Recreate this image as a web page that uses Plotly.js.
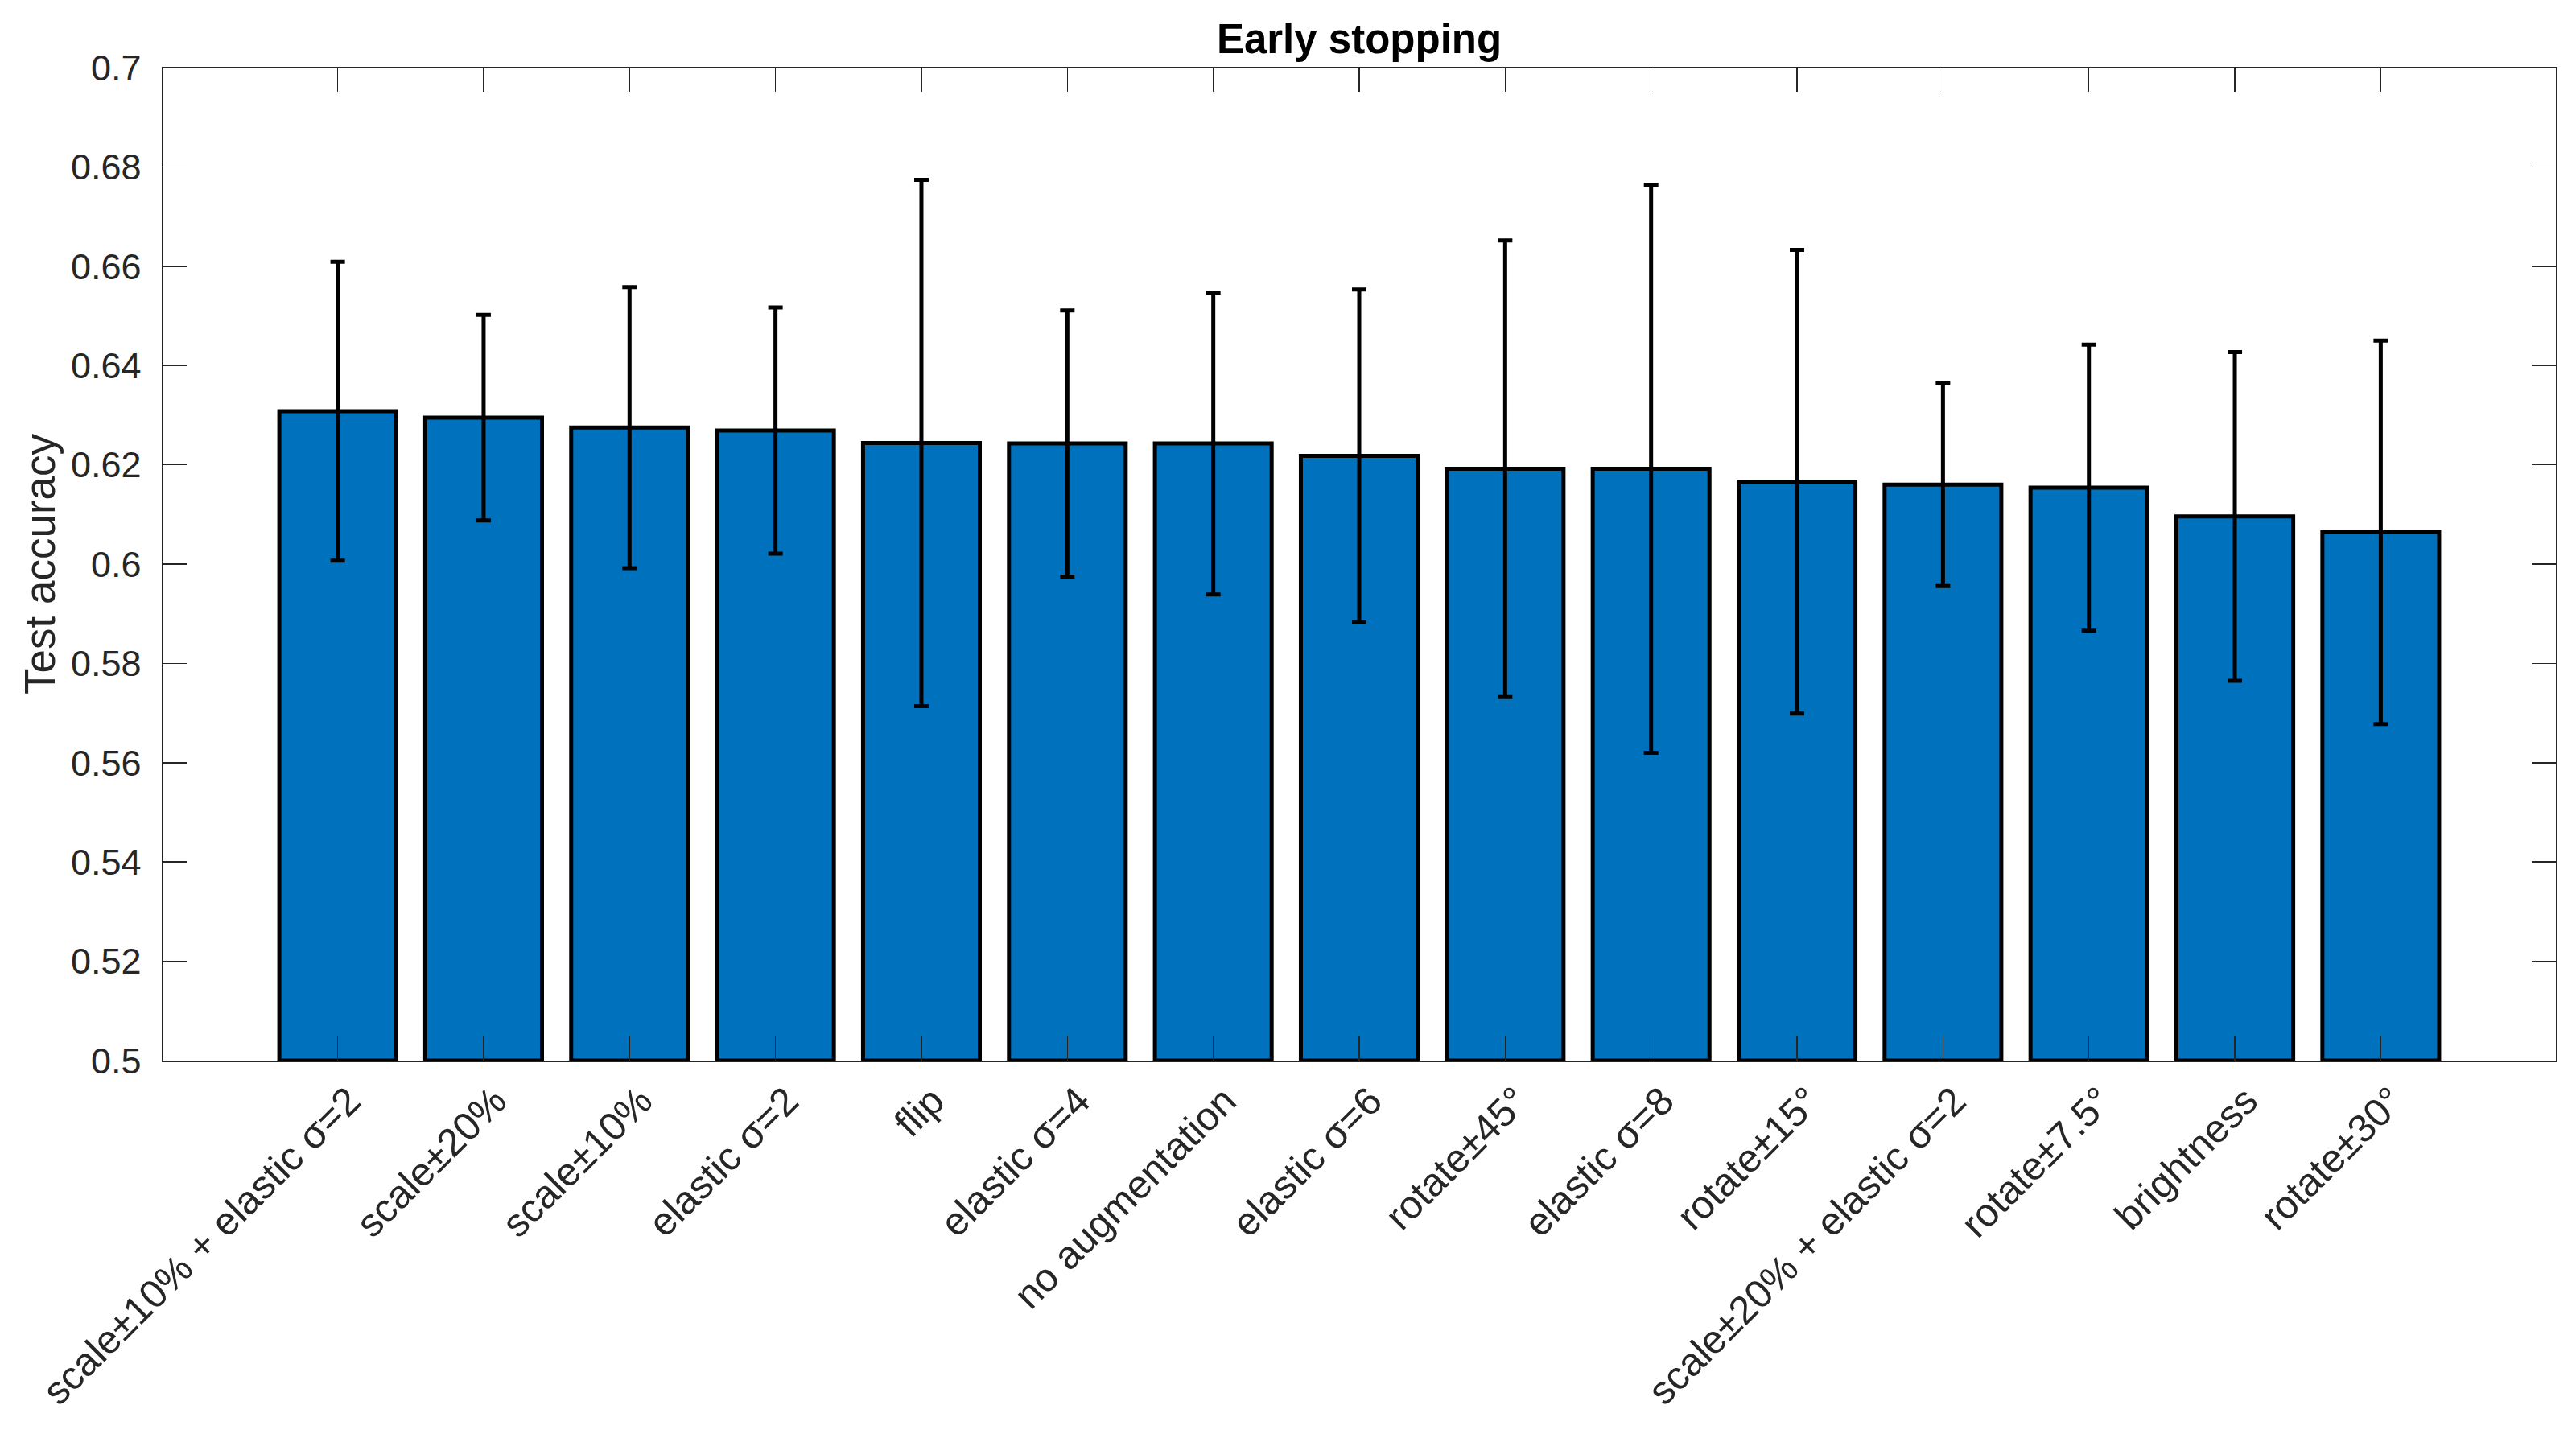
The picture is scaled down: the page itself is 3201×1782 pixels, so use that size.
<!DOCTYPE html>
<html>
<head>
<meta charset="utf-8">
<script src="https://cdn.plot.ly/plotly-3.0.1.min.js"></script>
<style>
html,body{margin:0;padding:0;background:#ffffff;}
#chart{width:3201px;height:1782px;}
</style>
</head>
<body>
<div id="chart"></div>
<script>
// ---- data ----
const categories = [
  "scale\u00b110% + elastic \u03c3=2",
  "scale\u00b120%",
  "scale\u00b110%",
  "elastic \u03c3=2",
  "flip",
  "elastic \u03c3=4",
  "no augmentation",
  "elastic \u03c3=6",
  "rotate\u00b145\u00b0",
  "elastic \u03c3=8",
  "rotate\u00b115\u00b0",
  "scale\u00b120% + elastic \u03c3=2",
  "rotate\u00b17.5\u00b0",
  "brightness",
  "rotate\u00b130\u00b0"
];
const accuracy = [0.6308, 0.6295, 0.6275, 0.6269, 0.6244, 0.6243, 0.6243, 0.6218, 0.6192, 0.6192, 0.6166, 0.6160, 0.6154, 0.6096, 0.6064];
const errorHalf = [0.0301, 0.0207, 0.0283, 0.0248, 0.0530, 0.0268, 0.0304, 0.0335, 0.0460, 0.0572, 0.0467, 0.0204, 0.0288, 0.0331, 0.0386];
const yTickVals = [0.5, 0.52, 0.54, 0.56, 0.58, 0.6, 0.62, 0.64, 0.66, 0.68, 0.7];
const yTickText = ["0.5", "0.52", "0.54", "0.56", "0.58", "0.6", "0.62", "0.64", "0.66", "0.68", "0.7"];
const yBase = 0.5;
const titleText = "Early stopping";
const yLabel = "Test accuracy";

// ---- styling ----
const FONT = "Liberation Sans, Arial, Helvetica, sans-serif";
const AX = "#262626";

const bars = {
  type: "bar",
  x: categories,
  y: accuracy.map(v => v - yBase),
  base: yBase,
  width: 0.8,
  marker: {color: "#0072BD", line: {color: "#000000", width: 5}},
  hoverinfo: "skip"
};
const errs = {
  type: "scatter",
  mode: "markers",
  x: categories,
  y: accuracy,
  marker: {opacity: 0, size: 1},
  error_y: {type: "data", array: errorHalf, visible: true, color: "#000000", thickness: 5, width: 9},
  hoverinfo: "skip",
  cliponaxis: false
};

const commonAxis = {
  showline: true,
  linecolor: AX,
  linewidth: 1.5,
  mirror: "ticks",
  ticks: "inside",
  ticklen: 30,
  tickwidth: 1.5,
  tickcolor: AX,
  showgrid: false,
  zeroline: false,
  tickfont: {family: FONT, size: 45, color: AX}
};

const layout = {
  width: 3201,
  height: 1782,
  margin: {l: 202, r: 25, t: 84, b: 464, pad: 0},
  paper_bgcolor: "#ffffff",
  plot_bgcolor: "#ffffff",
  showlegend: false,
  title: {
    text: "<b>" + titleText + "</b>",
    font: {family: FONT, size: 51, color: "#000000"},
    x: 0.5, xref: "paper", xanchor: "center",
    y: 1 - 48 / 1782, yref: "container", yanchor: "middle"
  },
  xaxis: Object.assign({}, commonAxis, {
    type: "category",
    range: [-1.2, 15.2],
    tickangle: -45,
    tickfont: {family: FONT, size: 49, color: AX},
    ticklabelshift: 14,
    automargin: false
  }),
  yaxis: Object.assign({}, commonAxis, {
    range: [0.5, 0.7],
    tickvals: yTickVals,
    ticktext: yTickText,
    ticklabelstandoff: 16,
    automargin: false,
    title: {text: yLabel, font: {family: FONT, size: 53, color: AX}, standoff: 2}
  })
};

Plotly.newPlot("chart", [bars, errs], layout, {staticPlot: true, displayModeBar: false});
</script>
</body>
</html>
